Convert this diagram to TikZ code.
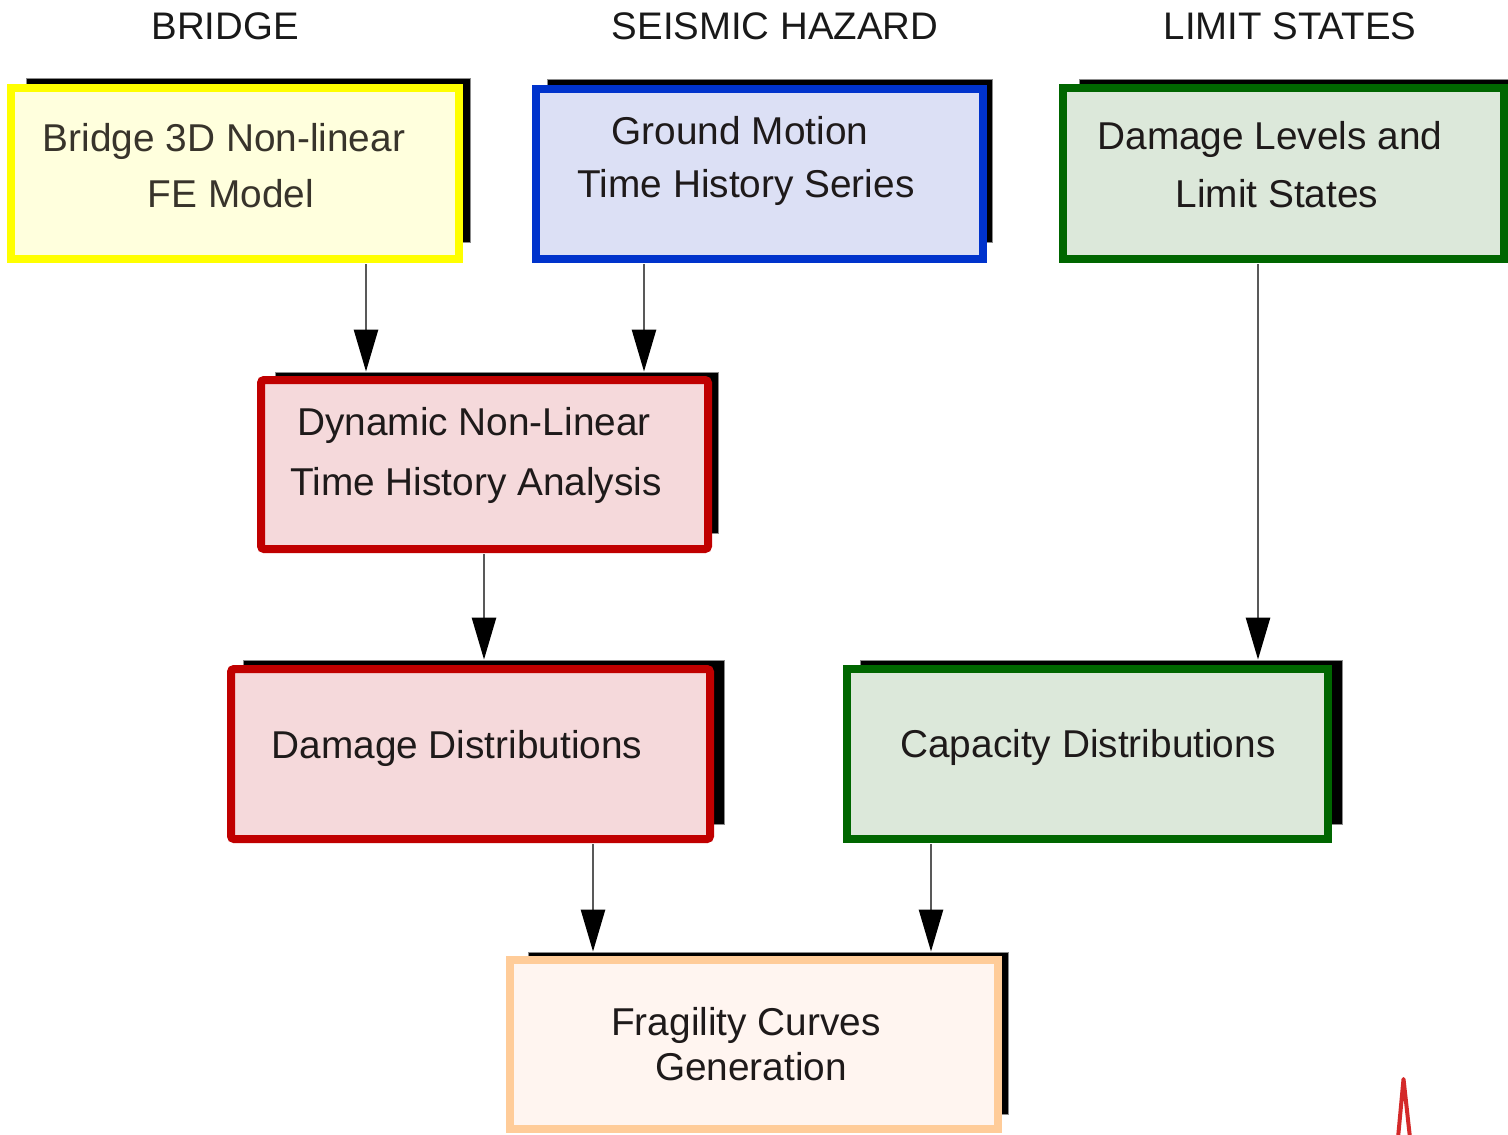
\documentclass[tikz,border=0pt]{standalone}
\usepackage{fontspec}
\setmainfont{Liberation Sans}
\usetikzlibrary{arrows.meta}
\definecolor{yb}{HTML}{FFFF00}\definecolor{yf}{HTML}{FFFFDD}
\definecolor{bb}{HTML}{0033CC}\definecolor{bf}{HTML}{DCE0F5}
\definecolor{gb}{HTML}{006600}\definecolor{gf}{HTML}{DCE8DA}
\definecolor{rb}{HTML}{C00000}\definecolor{rf}{HTML}{F5D9DB}
\definecolor{pb}{HTML}{FFCC99}\definecolor{pf}{HTML}{FFF5F0}
\definecolor{txt}{HTML}{1E1A1A}
\definecolor{redv}{HTML}{D42A2A}
\tikzset{
  shadowbox/.style={draw=black!45, line width=0.4pt, fill=black, rectangle, inner sep=0pt},
  flowbox/.style={rectangle, line width=4pt, inner sep=0pt},
  boxtext/.style={anchor=base, font=\fontsize{19.4}{24}\selectfont, text=txt, inner sep=0pt},
  headtext/.style={anchor=base, font=\fontsize{19.2}{24}\selectfont, text=black!90, inner sep=0pt},
  flowarrow/.style={draw=black!65, line width=1.3pt, -{Triangle[width=12pt,length=21pt,color=black]}}
}
\begin{document}
\begin{tikzpicture}[x=0.5pt,y=-0.5pt]
\useasboundingbox[fill=white] (0,0) rectangle (1508,1134);
\begin{scope}
\clip (0,0) rectangle (1508,1134);
% headers
\node[headtext] (h1) at (225,40) {BRIDGE};
\node[headtext] (h2) at (775,40) {SEISMIC HAZARD};
\node[headtext] (h3) at (1290,40) {LIMIT STATES};
% shadows
\node[shadowbox, minimum width=222pt, minimum height=82pt] (s1) at (248,160) {};
\node[shadowbox, minimum width=222.5pt, minimum height=81.5pt] (s2) at (769.5,160.5) {};
\node[shadowbox, minimum width=220.5pt, minimum height=81.5pt] (s3) at (1299.5,160.5) {};
\node[shadowbox, minimum width=221.5pt, minimum height=80.5pt] (s4) at (496.5,452.5) {};
\node[shadowbox, minimum width=240.5pt, minimum height=82pt] (s5) at (483.5,742) {};
\node[shadowbox, minimum width=241pt, minimum height=82pt] (s6) at (1101,742) {};
\node[shadowbox, minimum width=240pt, minimum height=81pt] (s7) at (768,1033) {};
% boxes
\node[flowbox, draw=yb, fill=yf, minimum width=224pt, minimum height=85.5pt] (b1) at (235,173.5) {};
\node[flowbox, draw=bb, fill=bf, minimum width=223.5pt, minimum height=85pt] (b2) at (759.5,174) {};
\node[flowbox, draw=gb, fill=gf, minimum width=220.5pt, minimum height=85.5pt] (b3) at (1283.5,173.5) {};
\node[flowbox, draw=rb, fill=rf, rounded corners=1.5pt, minimum width=223.5pt, minimum height=84.5pt] (b4) at (484.5,464.5) {};
\node[flowbox, draw=rb, fill=rf, rounded corners=1.5pt, minimum width=239.5pt, minimum height=85pt] (b5) at (470.5,754) {};
\node[flowbox, draw=gb, fill=gf, minimum width=240.5pt, minimum height=85pt] (b6) at (1087.5,754) {};
\node[flowbox, draw=pb, fill=pf, minimum width=244pt, minimum height=84.5pt] (b7) at (754,1044.5) {};
% texts
\node[boxtext, text=black!80!olive] (t1a) at (224,152) {Bridge 3D Non-linear};
\node[boxtext, text=black!80!olive] (t1b) at (231,208) {FE Model};
\node[boxtext] (t2a) at (740,145) {Ground Motion};
\node[boxtext] (t2b) at (746,198) {Time History Series};
\node[boxtext] (t3a) at (1270,150) {Damage Levels and};
\node[boxtext] (t3b) at (1277,208) {Limit States};
\node[boxtext] (t4a) at (474,435) {Dynamic Non-Linear};
\node[boxtext] (t4b) at (476,495) {Time History Analysis};
\node[boxtext] (t5) at (457,758) {Damage Distributions};
\node[boxtext] (t6) at (1088,757) {Capacity Distributions};
\node[boxtext] (t7a) at (746,1035) {Fragility Curves};
\node[boxtext] (t7b) at (751,1080) {Generation};
% arrows
\draw[flowarrow] ([yshift=-0.5pt]{366,0} |- b1.south) -- ({366,0} |- s4.north);
\draw[flowarrow] ([yshift=-0.5pt]{644,0} |- b2.south) -- ({644,0} |- s4.north);
\draw[flowarrow] ([yshift=-0.5pt]{484,0} |- b4.south) -- ({484,0} |- s5.north);
\draw[flowarrow] ([yshift=-0.5pt]{1258,0} |- b3.south) -- ({1258,0} |- s6.north);
\draw[flowarrow] ([yshift=-0.5pt]{593,0} |- b5.south) -- ({593,0} |- s7.north);
\draw[flowarrow] ([yshift=-0.5pt]{931,0} |- b6.south) -- ({931,0} |- s7.north);
% red mark
\coordinate (v1) at (1398,1138);
\coordinate (v2) at (1403.5,1079);
\coordinate (v3) at (1410,1138);
\draw[redv, line width=2pt, line join=round] (v1) -- (v2) -- (v3);
\end{scope}
\end{tikzpicture}
\end{document}
